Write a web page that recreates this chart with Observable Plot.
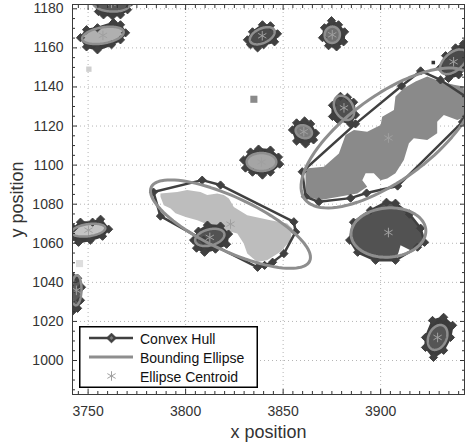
<!DOCTYPE html>
<html><head><meta charset="utf-8">
<script src="https://cdn.jsdelivr.net/npm/d3@7"></script>
<script src="https://cdn.jsdelivr.net/npm/@observablehq/plot@0.6"></script>
<style>
body{margin:0;background:#fff;font-family:"Liberation Sans",Arial,Helvetica,sans-serif;}
#wrap{position:relative;width:465px;height:445px;overflow:hidden;}
#legend{position:absolute;left:79px;top:326px;}
</style></head><body><div id="wrap"></div>
<script>
// ---- axes ----
const xTicks = [3750, 3800, 3850, 3900];
const yTicks = [1000, 1020, 1040, 1060, 1080, 1100, 1120, 1140, 1160, 1180];
const xMinorTicks = [3745,3755,3760,3765,3770,3775,3780,3785,3790,3795,3805,3810,3815,3820,3825,3830,3835,3840,3845,3855,3860,3865,3870,3875,3880,3885,3890,3895,3905,3910,3915,3920,3925,3930,3935,3940];
const yMinorTicks = [985,990,995,1005,1010,1015,1025,1030,1035,1045,1050,1055,1065,1070,1075,1085,1090,1095,1105,1110,1115,1125,1130,1135,1145,1150,1155,1165,1170,1175];
const xLabel = "x position";
const yLabel = "y position";
const legendLabels = ["Convex Hull", "Bounding Ellipse", "Ellipse Centroid"];

// ---- fitted ellipses (centroid, semi-axes, tilt in degrees) ----
const clusterIds = ["N1","N2","N3","N4","NE","E1","E2","M1","BIG","W","M2","W2","DARK","EDGE","SE"];
const centroidX  = [3762, 3757.6, 3839.3, 3875.2, 3937.4, 3881.2, 3860.6, 3838.9, 3904, 3823, 3812.4, 3750.2, 3904, 3744, 3929.2];
const centroidY  = [1182.8, 1166.4, 1166.2, 1166.7, 1152.9, 1129.3, 1117.1, 1101.6, 1113.9, 1069.8, 1063, 1066.7, 1065.5, 1035.9, 1011.8];
const semiMajor  = [9.5, 10.8, 6.8, 4.2, 8.2, 6.7, 4.3, 7.6, 53.1, 44.8, 7.7, 8.7, 19.2, 7.7, 6.7];
const semiMinor  = [4.2, 4.1, 3.7, 3.9, 4.6, 4.6, 3.2, 4.6, 21.7, 13.7, 4.1, 3.1, 12.6, 2.6, 4.6];
const tiltDeg    = [-3, 10, 25, 80, 40, -60, -20, 0, 36, -25, 15, 8, 4, 88, 65];

// ---- convex hull vertices ----
const hullN1 = [[3752.8,1183.8],[3755.3,1178.6],[3757.9,1176.9],[3762.5,1176.4],[3766.6,1176.9],[3770.2,1179.5],[3772.3,1183.6],[3768,1188],[3756,1188]];
const hullN2 = [[3746.1,1165.2],[3749.2,1169.3],[3754.8,1170.3],[3763,1172.9],[3766.6,1171.8],[3769.2,1167.7],[3766.6,1164.1],[3762,1161.6],[3754.8,1159],[3749.2,1160.5]];
const hullN3 = [[3831.7,1164.1],[3834.3,1168.2],[3839.4,1171.8],[3843.5,1171.3],[3847.1,1167.2],[3845.6,1163.1],[3840,1161.6],[3836.9,1160],[3833.3,1161.6]];
const hullN4 = [[3870.2,1165.2],[3871.2,1170.3],[3874.8,1173.9],[3878.4,1171.8],[3881.5,1168.2],[3881,1163.1],[3877.4,1160.5],[3873.3,1161.1]];
const hullNE = [[3930.7,1149.8],[3933.3,1156],[3938.4,1160],[3942.5,1162.1],[3946.1,1159],[3945.1,1150.8],[3940,1146.2],[3934.8,1144.4]];
const hullE1 = [[3879.4,1135.2],[3875.3,1130.6],[3875.3,1124.9],[3877.9,1123.4],[3884.6,1121.1],[3887.1,1125.7],[3886.1,1132.2],[3883,1134.7]];
const hullE2 = [[3854.8,1118],[3856.9,1121.6],[3861,1122.6],[3864.1,1121.1],[3866.6,1116.4],[3865.6,1112.9],[3861.5,1110.8],[3856.9,1112.3]];
const hullM1 = [[3829.7,1102.6],[3833.3,1106.7],[3837.4,1108.2],[3843.5,1107.7],[3847.6,1104.1],[3848.2,1100.5],[3843.5,1096.4],[3839.4,1094.9],[3834.3,1096.4],[3830.7,1098.5]];
const hullBIG = [[3859.8,1096.6],[3861.5,1083.8],[3868.3,1081.2],[3884.6,1083.1],[3892.8,1085.7],[3908.7,1089.3],[3942,1122.1],[3946,1133.4],[3930.7,1143.6],[3920.5,1148.2],[3910.7,1140.5],[3887.1,1121.1]];
const hullW = [[3783.5,1086.2],[3787.1,1073.9],[3809.2,1061.6],[3836.9,1047.7],[3840.5,1048.7],[3844.6,1050.3],[3850.4,1054.7],[3856.4,1065.8],[3855.5,1071],[3817.9,1089.8],[3808.5,1092.3]];
const hullM2 = [[3804.1,1061.6],[3806.6,1066.2],[3811.2,1069.3],[3817.9,1068.8],[3822,1064.7],[3821,1059.5],[3815.3,1057],[3809.7,1055.4],[3805.6,1057.5]];
const hullW2 = [[3741.5,1062.6],[3742.5,1067.7],[3746.1,1070.8],[3752.3,1070.8],[3756.4,1072.3],[3760.5,1067.2],[3757.4,1063.6],[3751.2,1061.6],[3745.1,1060.5]];
const hullDARK = [[3886.1,1070.8],[3894.8,1076.9],[3903,1081],[3907.6,1080.5],[3914.8,1074.9],[3920.5,1067.7],[3922.5,1060.5],[3918.9,1058],[3907.6,1051.3],[3897.4,1051.3],[3888.2,1055.4],[3884.1,1061.6]];
const hullEDGE = [[3742,1043.1],[3744.6,1042.1],[3746.6,1037.5],[3746.1,1030.8],[3744.6,1026.7],[3742,1025.2],[3740.5,1030.8],[3740.5,1038.5]];
const hullSE = [[3926.6,1020.5],[3932.3,1022.1],[3936.9,1018],[3935.8,1011.8],[3932.3,1005.2],[3927.1,1001.6],[3923,1006.7],[3923,1011.8]];

// ---- segmented regions (outlines) ----
const blobBIG = [[3861.5,1098.3],[3870.9,1099.2],[3878.6,1106],[3882,1115.4],[3886.3,1118],[3893.1,1117.1],[3900,1120.5],[3900.8,1124.8],[3906.8,1128.2],[3907.6,1135.1],[3911.9,1139.4],[3917.9,1142.8],[3923.9,1145.3],[3930.7,1142.8],[3937.5,1141.1],[3942.5,1140.2],[3944.4,1124.8],[3939.3,1123.1],[3932.4,1125.7],[3929,1122.2],[3929,1116.3],[3923.9,1112.9],[3917,1113.7],[3914.5,1111.2],[3911.9,1102.6],[3907.6,1095.8],[3903.4,1093.2],[3900,1092.3],[3896.5,1095.8],[3892.3,1095.8],[3890.6,1092.3],[3893.1,1088.9],[3888,1085.5],[3869.2,1082.1],[3861.5,1083.8]];
const blobW = [[3787.1,1085.5],[3795.7,1086.3],[3800.8,1087.2],[3807.6,1086.3],[3811.1,1084.7],[3816.2,1085.5],[3819.6,1084.7],[3822.2,1082.9],[3824.7,1078.6],[3831.6,1074.4],[3843.5,1071.8],[3852.1,1070.1],[3854.7,1067.6],[3853.8,1061.6],[3848.7,1055.6],[3841.8,1051.3],[3836.7,1050.4],[3831.6,1054.7],[3829.8,1059.9],[3826.5,1065],[3816.2,1067.6],[3806,1071.8],[3800,1073.5],[3794.8,1075.3],[3792.3,1077.8],[3788.8,1079.5],[3787.1,1083.8]];
const blobDARK = [[3886.1,1070.8],[3894.8,1076.9],[3903,1081],[3907.6,1080.5],[3914.8,1074.9],[3920.5,1067.7],[3922.5,1060.5],[3918.9,1058],[3915.3,1056.4],[3910.2,1059],[3909.2,1055.4],[3907.6,1051.3],[3897.4,1051.3],[3888.2,1055.4],[3884.1,1061.6]];

// ---- isolated small patches ----
const patchIds = ["p1","p2","p3","p4"];
const patchX = [3750.4, 3835, 3927, 3745.6];
const patchY = [1149.1, 1133.7, 1152.5, 1049.6];

// ---------- build ----------
const clusters = clusterIds.map((id, i) => ({id, cx: centroidX[i], cy: centroidY[i], a: semiMajor[i], b: semiMinor[i], tilt: tiltDeg[i]}));
const hulls = {N1: hullN1, N2: hullN2, N3: hullN3, N4: hullN4, NE: hullNE, E1: hullE1, E2: hullE2, M1: hullM1, BIG: hullBIG, W: hullW, M2: hullM2, W2: hullW2, DARK: hullDARK, EDGE: hullEDGE, SE: hullSE};
const rows = (id, pts) => pts.map(([x, y]) => ({id, x, y}));
const hullRows = Object.entries(hulls).flatMap(([id, p]) => rows(id, p));
function ellipseOutline(c) {
  const th = c.tilt * Math.PI / 180;
  return d3.range(0, 97).map(k => {
    const t = k / 96 * 2 * Math.PI;
    const u = c.a * Math.cos(t), v = c.b * Math.sin(t);
    return {id: c.id, x: c.cx + u * Math.cos(th) - v * Math.sin(th), y: c.cy + u * Math.sin(th) + v * Math.cos(th)};
  });
}
const bigIds = new Set(["BIG", "W", "DARK"]);
const smallClusters = clusters.filter(c => !bigIds.has(c.id));
const interiorShade = {N1:"#5a5a5a", N2:"#b0b0b0", N3:"#4b4b4b", N4:"#707070", NE:"#4a4a4a", E1:"#4e4e4e", E2:"#7c7c7c", M1:"#a5a5a5", M2:"#525252", W2:"#c4c4c4", EDGE:"#5a5a5a", SE:"#555555"};
const patchStyle = {p1: {fill:"#cfcfcf", r:3}, p2: {fill:"#8a8a8a", r:4}, p3: {fill:"#333", r:2}, p4: {fill:"#dedede", r:4}};
const patches = patchIds.map((id, i) => ({id, x: patchX[i], y: patchY[i]}));

const HULL = "#404040", ELL = "#8e8e8e", AX = "#333";
const marks = [
  Plot.gridX(xTicks, {stroke: "#b5b5b5", strokeOpacity: 1, strokeDasharray: "1,3"}),
  Plot.gridY(yTicks, {stroke: "#b5b5b5", strokeOpacity: 1, strokeDasharray: "1,3"}),
  // segmented regions
  Plot.line(rows("BIG", blobBIG), {x: "x", y: "y", curve: "linear-closed", fill: "#8a8a8a", stroke: "none", clip: true}),
  Plot.line(rows("W", blobW), {x: "x", y: "y", curve: "linear-closed", fill: "#bdbdbd", stroke: "none", clip: true}),
  Plot.line(rows("DARK", blobDARK), {x: "x", y: "y", curve: "linear-closed", fill: "#525252", stroke: "none", clip: true}),
  ...patches.map(p => Plot.dot([p], {x: "x", y: "y", symbol: "square", r: patchStyle[p.id].r, fill: patchStyle[p.id].fill, clip: true})),
  // small clusters: dark hull body
  ...smallClusters.map(c => Plot.line(rows(c.id, hulls[c.id]), {x: "x", y: "y", curve: "linear-closed", fill: "#3c3c3c", stroke: "#3c3c3c", strokeWidth: 2, clip: true})),
  ...smallClusters.map(c => Plot.line(ellipseOutline(c), {x: "x", y: "y", curve: "linear-closed", fill: interiorShade[c.id], stroke: "none", clip: true})),
  // convex hulls of big clusters
  ...["BIG", "W", "DARK"].map(id => Plot.line(rows(id, hulls[id]), {x: "x", y: "y", curve: "linear-closed", stroke: HULL, strokeWidth: 2.5, clip: true})),
  Plot.dot(hullRows, {x: "x", y: "y", symbol: "diamond2", r: 3.7, fill: HULL, stroke: HULL, strokeWidth: 1, clip: true}),
  // ellipses
  ...clusters.map(c => Plot.line(ellipseOutline(c), {x: "x", y: "y", curve: "linear-closed", stroke: ELL, strokeWidth: bigIds.has(c.id) ? 3 : 2.5, clip: true})),
  // centroids
  Plot.dot(clusters, {x: "cx", y: "cy", symbol: "asterisk", r: 4.5, stroke: "#a0a0a0", strokeWidth: 1, clip: true}),
  // axes: inward ticks on all four sides
  Plot.axisX(xTicks, {anchor: "bottom", tickSize: -5, tickFormat: () => "", label: null, stroke: AX}),
  Plot.axisX(xTicks, {anchor: "top", tickSize: -5, tickFormat: () => "", label: null, stroke: AX}),
  Plot.axisX(xMinorTicks, {anchor: "bottom", tickSize: -3, tickFormat: () => "", label: null, stroke: AX}),
  Plot.axisX(xMinorTicks, {anchor: "top", tickSize: -3, tickFormat: () => "", label: null, stroke: AX}),
  Plot.axisY(yTicks, {anchor: "left", tickSize: -5, tickFormat: () => "", label: null, stroke: AX}),
  Plot.axisY(yTicks, {anchor: "right", tickSize: -5, tickFormat: () => "", label: null, stroke: AX}),
  Plot.axisY(yMinorTicks, {anchor: "left", tickSize: -3, tickFormat: () => "", label: null, stroke: AX}),
  Plot.axisY(yMinorTicks, {anchor: "right", tickSize: -3, tickFormat: () => "", label: null, stroke: AX}),
  Plot.axisX(xTicks, {anchor: "bottom", tickSize: 0, tickPadding: 12, label: null, fontSize: 14, fill: AX, tickFormat: d => String(d)}),
  Plot.axisY(yTicks, {anchor: "left", tickSize: 0, tickPadding: 9, label: null, fontSize: 14, fill: AX, tickFormat: d => String(d)}),
  Plot.frame({stroke: "#3a3a3a", strokeWidth: 1}),
  Plot.text([xLabel], {frameAnchor: "bottom", text: d => d, dy: 43, lineAnchor: "bottom", fontSize: 18, fill: AX}),
  Plot.text([yLabel], {frameAnchor: "left", text: d => d, rotate: -90, dx: -55, lineAnchor: "middle", textAnchor: "middle", fontSize: 18, fill: AX})
];

const chart = Plot.plot({
  width: 465, height: 445,
  marginLeft: 72, marginRight: 1, marginTop: 4, marginBottom: 51,
  x: {domain: [3742, 3943]},
  y: {domain: [982.6, 1182.2]},
  style: {fontFamily: '"Liberation Sans", Arial, Helvetica, sans-serif', fontSize: "14px", background: "#fff"},
  marks
});
const wrap = document.getElementById("wrap");
wrap.appendChild(chart);

// legend (inside the axes, lower left)
const ns = "http://www.w3.org/2000/svg";
const lg = d3.create("svg").attr("id", "legend").attr("width", 179).attr("height", 62)
  .attr("xmlns", ns).style("position", "absolute").style("left", "79px").style("top", "326px");
lg.append("rect").attr("x", 0.75).attr("y", 0.75).attr("width", 177.5).attr("height", 60.5).attr("fill", "#fff").attr("stroke", "#000").attr("stroke-width", 1.5);
const rowY = [12, 31, 50];
lg.append("line").attr("x1", 10).attr("x2", 54).attr("y1", rowY[0]).attr("y2", rowY[0]).attr("stroke", HULL).attr("stroke-width", 2.5);
lg.append("path").attr("d", d3.symbol(d3.symbolDiamond2, 60)()).attr("transform", `translate(32.5,${rowY[0]})`).attr("fill", HULL).attr("stroke", HULL);
lg.append("path").attr("d", d3.symbol(d3.symbolDiamond2, 10)()).attr("transform", `translate(32.5,${rowY[0]})`).attr("fill", "#777");
lg.append("line").attr("x1", 10).attr("x2", 54).attr("y1", rowY[1]).attr("y2", rowY[1]).attr("stroke", ELL).attr("stroke-width", 3);
lg.append("path").attr("d", d3.symbol(d3.symbolAsterisk, 64)()).attr("transform", `translate(32.5,${rowY[2]})`).attr("fill", "none").attr("stroke", "#a0a0a0").attr("stroke-width", 1);
legendLabels.forEach((t, i) => {
  lg.append("text").attr("x", 61).attr("y", rowY[i] + 5.5).attr("font-size", 14)
    .attr("font-family", '"Liberation Sans", Arial, Helvetica, sans-serif').attr("fill", "#111").text(t);
});
wrap.appendChild(lg.node());
</script></body></html>
